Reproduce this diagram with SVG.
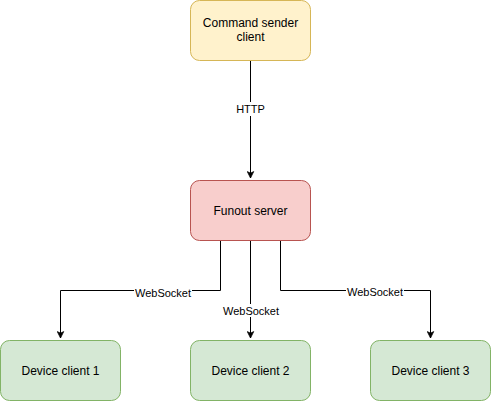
<svg xmlns="http://www.w3.org/2000/svg" width="491" height="401" viewBox="0 0 491 401">
<style>
.node rect{stroke-width:1}
.t{font-family:Helvetica,"Liberation Sans",Arial,sans-serif;font-size:12px;fill:#000;text-anchor:middle}
.l{font-family:Helvetica,"Liberation Sans",Arial,sans-serif;font-size:11px;fill:#000;text-anchor:middle}
.e{fill:none;stroke:#000;stroke-width:1}
.lb{fill:#fff}
</style>
<defs>
<marker id="arr" viewBox="0 0 10 10" refX="9" refY="5" markerWidth="8" markerHeight="8" markerUnits="userSpaceOnUse" orient="auto">
<path d="M1,1 L9,5 L1,9 L3,5 Z" fill="#000" stroke="#000" stroke-width="1"/>
</marker>
</defs>
<rect width="491" height="401" fill="#fff"/>
<g id="edges">
<path class="e" d="M250.5,60.5 V178" marker-end="url(#arr)"/>
<path class="e" d="M220.5,240.5 V290.5 H60.5 V338" marker-end="url(#arr)"/>
<path class="e" d="M250.5,240.5 V338" marker-end="url(#arr)"/>
<path class="e" d="M280.5,240.5 V290.5 H430.5 V338" marker-end="url(#arr)"/>
<rect class="lb" x="233" y="102" width="35" height="14"/>
<text class="l" x="250.5" y="113">HTTP</text>
<rect class="lb" x="134" y="286" width="58" height="13"/>
<text class="l" x="163" y="297">WebSocket</text>
<rect class="lb" x="222" y="304" width="58" height="13"/>
<text class="l" x="251" y="315">WebSocket</text>
<rect class="lb" x="346" y="285" width="58" height="13"/>
<text class="l" x="375" y="296">WebSocket</text>
</g>
<g id="cmd" class="node">
<rect x="190.5" y="0.5" width="120" height="60" rx="9" fill="#fff2cc" stroke="#d6b656"/>
<text class="t" x="250.5" y="27">Command sender</text>
<text class="t" x="250.5" y="41">client</text>
</g>
<g id="funout" class="node">
<rect x="190.5" y="180.5" width="120" height="60" rx="9" fill="#f8cecc" stroke="#b85450"/>
<text class="t" x="250.5" y="214.5">Funout server</text>
</g>
<g id="dev1" class="node">
<rect x="0.5" y="340.5" width="120" height="60" rx="9" fill="#d5e8d4" stroke="#82b366"/>
<text class="t" x="60.5" y="374.5">Device client 1</text>
</g>
<g id="dev2" class="node">
<rect x="190.5" y="340.5" width="120" height="60" rx="9" fill="#d5e8d4" stroke="#82b366"/>
<text class="t" x="250.5" y="374.5">Device client 2</text>
</g>
<g id="dev3" class="node">
<rect x="370.5" y="340.5" width="120" height="60" rx="9" fill="#d5e8d4" stroke="#82b366"/>
<text class="t" x="430.5" y="374.5">Device client 3</text>
</g>
</svg>
